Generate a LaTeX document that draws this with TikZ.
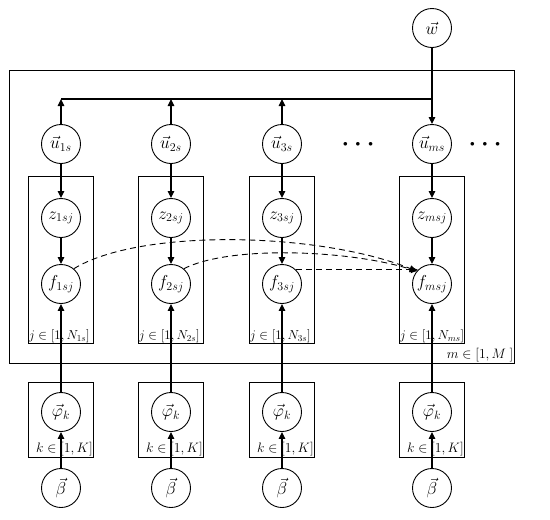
\documentclass[tikz,border=0pt]{standalone}
\usepackage{fontspec}
\setmainfont{Liberation Serif}
\usetikzlibrary{arrows.meta}
\begin{document}
\begin{tikzpicture}[x=1pt,y=-1pt,
  var/.style={circle,draw,line width=0.9pt,minimum size=39pt,inner sep=0pt,font=\LARGE},
  plate/.style={draw,line width=0.9pt,inner sep=0pt},
  arr/.style={line width=1.1pt,-{Triangle[length=7pt,width=6.5pt]}},
  dep/.style={line width=0.9pt,dash pattern=on 6pt off 4pt,-{Triangle[length=7pt,width=6.5pt]}},
  lab/.style={font=\Large,inner sep=1pt},
  dotsty/.style={font=\small,inner sep=0pt}]
\useasboundingbox (0,0) rectangle (550,520);
% outer plate
\node[plate,minimum width=505pt,minimum height=293pt] (outer) at (261.5,216.5) {};
\node[lab,anchor=south east] (mlab) at (outer.south east) {\scalebox{0.95}{$m\in\Big[1,M\ \Big]$}};
% top variable
\node[var] (w) at (432,28) {$\vec{w}$};
\coordinate (bus) at (432,99);
% columns
\foreach \i/\x in {1/61,2/171,3/282,m/432}{
  \node[plate,minimum width=65pt,minimum height=167pt] (plate\i) at (\x,259.5) {};
  \node[plate,minimum width=65pt,minimum height=75pt] (kplate\i) at (\x,419.5) {};
  \node[var] (u\i) at (\x,144) {$\vec{u}_{\i s}$};
  \node[var] (z\i) at (\x,218) {$z_{\i sj}$};
  \node[var] (f\i) at (\x,284) {$f_{\i sj}$};
  \node[var] (phi\i) at (\x,412) {$\vec{\varphi}_k$};
  \node[var] (beta\i) at (\x,488) {$\vec{\beta}$};
  \node[lab,anchor=south west,inner sep=0.5pt] (jlab\i) at (plate\i.south west) {\scalebox{0.91}{$j\in\Big[1,N_{\i s}\Big]$}};
  \node[lab,anchor=south east] (klab\i) at (kplate\i.south east) {\scalebox{0.95}{$k\in\Big[1,K\Big]$}};
  \draw[arr] (u\i) -- (z\i);
  \draw[arr] (z\i) -- (f\i);
  \draw[arr] (phi\i) -- (f\i);
  \draw[arr] (beta\i) -- (phi\i);
}
\node[dotsty] (dots1) at (358,144) {$\bullet\hspace{6pt}\bullet\hspace{6pt}\bullet$};
\node[dotsty] (dots2) at (485,144) {$\bullet\hspace{6pt}\bullet\hspace{6pt}\bullet$};
% bus
\draw[line width=1.1pt] (bus) -- (u1 |- bus);
\draw[arr] (w) -- (um);
\foreach \i in {1,2,3}{ \draw[arr] (u\i) -- (u\i |- bus); }
% dependencies
\draw[dep] (f1.50) .. controls (140,228) and (320,232) .. (fm.140);
\draw[dep] (f2.50) .. controls (230,245) and (350,250) .. (fm.140);
\draw[dep] (f3.45) -- (fm.135);
\end{tikzpicture}
\end{document}
